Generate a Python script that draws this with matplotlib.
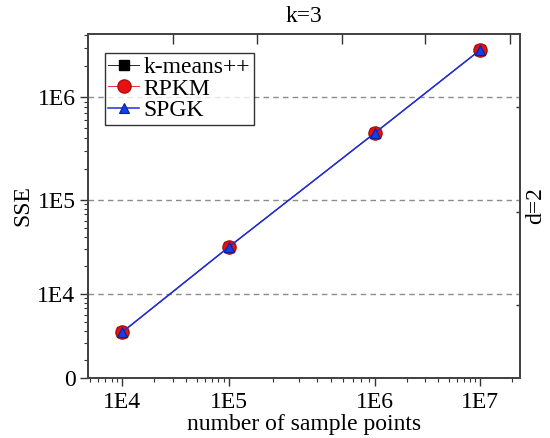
import numpy as np
import matplotlib
matplotlib.use('Agg')
import matplotlib.pyplot as plt
from matplotlib.ticker import FixedLocator, LogLocator, NullFormatter, FixedFormatter

# ---------------- data ----------------
n_points = [1e4, 1e5, 1e6, 1e7]
sse_kmeans = [3.9e3, 3.15e4, 4.5e5, 2.85e6]
sse_rpkm = [3.9e3, 3.15e4, 4.5e5, 2.85e6]
sse_spgk = [3.9e3, 3.15e4, 4.5e5, 2.85e6]
series_names = ['k-means++', 'RPKM', 'SPGK']
x_tick_values = [1e4, 1e5, 1e6, 1e7]
x_tick_labels = ['1E4', '1E5', '1E6', '1E7']
y_tick_values = [1e4, 1e5, 1e6]
y_tick_labels = ['1E4', '1E5', '1E6']
y_floor_label = '0'
title_text = 'k=3'
right_text = 'd=2'
x_label = 'number of sample points'
y_label = 'SSE'

# ---------------- scale shape (uneven decades as in the original) ----------------
x_knots_log = np.array([3, 4, 5, 6, 7, 8], float)
x_knots_pos = np.cumsum([0, 107, 107, 147, 105, 105]).astype(float)
y_knots_log = np.array([2, 3, 4, 5, 6, 7], float)
y_knots_pos = np.cumsum([0, 94, 94, 94, 103, 103]).astype(float)


def make_scale(klog, kpos):
    def fwd(v):
        v = np.asarray(v, float)
        lv = np.log10(np.clip(v, 1e-300, None))
        return np.interp(lv, klog, kpos) + \
            np.where(lv < klog[0], (lv - klog[0]) * (kpos[1] - kpos[0]), 0) + \
            np.where(lv > klog[-1], (lv - klog[-1]) * (kpos[-1] - kpos[-2]), 0)

    def inv(p):
        p = np.asarray(p, float)
        lv = np.interp(p, kpos, klog)
        lv = lv + np.where(p < kpos[0], (p - kpos[0]) / (kpos[1] - kpos[0]), 0) + \
            np.where(p > kpos[-1], (p - kpos[-1]) / (kpos[-1] - kpos[-2]), 0)
        return 10.0 ** lv
    return fwd, inv


FS = 17
plt.rcParams['font.family'] = ['Liberation Serif', 'DejaVu Serif']
plt.rcParams['font.size'] = FS

fig = plt.figure(figsize=(5.5, 4.38), dpi=100)
ax = fig.add_axes([88 / 550, 1 - 378 / 438, 432 / 550, 344 / 438])

ax.set_xscale('function', functions=make_scale(x_knots_log, x_knots_pos))
ax.set_yscale('function', functions=make_scale(y_knots_log, y_knots_pos))

xlim = (10 ** 3.682, 10 ** 7.381)
ylim = (10 ** 3.106, 10 ** 6.61)

for yv in y_tick_values:
    ax.axhline(yv, color='#8c8c8c', lw=1.0, ls=(0, (4, 3)), zorder=1)

ax.plot(n_points, sse_kmeans, color='black', lw=0.6, marker='s', ms=7,
        mfc='black', mec='black', label=series_names[0], zorder=3)
ax.plot(n_points, sse_rpkm, color='#e01010', lw=0.6, marker='o', ms=9.5,
        mfc='#e81010', mec='#b01010', mew=1.0, label=series_names[1], zorder=4)
ax.plot(n_points, sse_spgk, color='#1a30e0', lw=1.1, marker='^', ms=7,
        mfc='#1040e8', mec='#102090', mew=0.8, label=series_names[2], zorder=5)

ax.set_xlim(*xlim)
ax.set_ylim(*ylim)

ax.xaxis.set_major_locator(FixedLocator(x_tick_values))
ax.xaxis.set_major_formatter(FixedFormatter(x_tick_labels))
ax.xaxis.set_minor_locator(LogLocator(base=10, subs=np.arange(2, 10)))
ax.xaxis.set_minor_formatter(NullFormatter())

ax.yaxis.set_major_locator(FixedLocator([ylim[0]] + y_tick_values))
ax.yaxis.set_major_formatter(FixedFormatter([y_floor_label] + y_tick_labels))
ax.yaxis.set_minor_locator(LogLocator(base=10, subs=np.arange(2, 10)))
ax.yaxis.set_minor_formatter(NullFormatter())

ax.tick_params(which='major', direction='out', length=6, width=1.0,
               labelsize=FS, top=False, right=False, colors='#333333',
               labelcolor='black')
ax.tick_params(which='minor', direction='out', length=3, width=0.8,
               top=False, right=False, colors='#333333')
ax.tick_params(axis='x', pad=4)
ax.tick_params(axis='y', pad=3)

for sp in ax.spines.values():
    sp.set_color('#444444')
    sp.set_linewidth(1.3)

ax.set_xlabel(x_label, fontsize=FS, labelpad=1)
ax.set_ylabel(y_label, fontsize=FS, labelpad=3)
ax.set_title(title_text, fontsize=FS, pad=9)

# top ticks (inward, evenly spaced)
axt = ax.twiny()
axt.set_xlim(0, 1)
axt.set_xticks([0.196, 0.391, 0.587, 0.781, 0.978])
axt.tick_params(axis='x', direction='in', length=7, width=1.0, labeltop=False,
                colors='#333333')
axt.xaxis.set_minor_locator(FixedLocator([]))

# right ticks (inward)
axr = ax.twinx()
axr.set_ylim(0, 1)
axr.set_yticks([0.212, 0.483, 0.788])
axr.tick_params(axis='y', direction='in', length=3, width=1.0, labelright=False,
                colors='#333333')
axr.yaxis.set_minor_locator(FixedLocator([]))
axr.set_ylabel(right_text, fontsize=FS, rotation=90, labelpad=4)
for a in (axt, axr):
    for sp in a.spines.values():
        sp.set_color('#444444')
        sp.set_linewidth(1.3)

leg = ax.legend(loc='upper left', bbox_to_anchor=(0.039, 0.945),
                borderaxespad=0, frameon=True, fancybox=False,
                handlelength=1.3, handletextpad=0.2, borderpad=0.15,
                labelspacing=0.0, fontsize=FS)
leg.get_frame().set_edgecolor('black')
leg.get_frame().set_linewidth(1.0)
leg.set_zorder(10)

fig.savefig('out.png', dpi=100)
